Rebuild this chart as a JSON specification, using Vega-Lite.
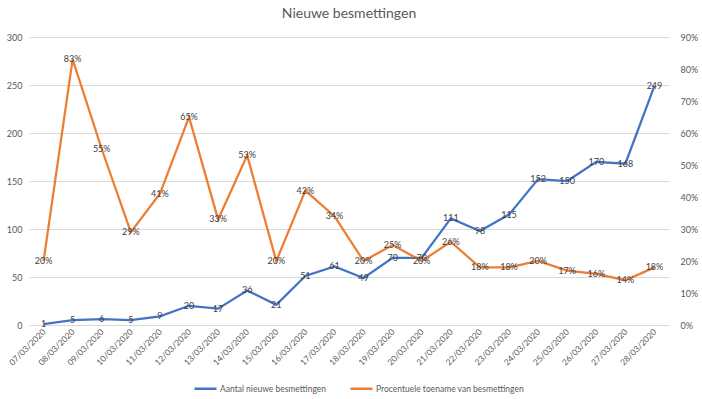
{
  "$schema": "https://vega.github.io/schema/vega-lite/v6.json",
  "width": 640,
  "height": 288,
  "autosize": {"type": "none"},
  "padding": {"left": 29, "top": 37, "right": 33, "bottom": 74},
  "background": "white",
  "title": {"text": "Nieuwe besmettingen", "fontSize": 14, "font": "Lato", "fontWeight": "normal", "color": "#595959", "offset": 12, "anchor": "middle"},
  "config": {"view": {"stroke": null}, "font": "Lato"},
  "data": {"values": [
    {"date": "07/03/2020", "count": 1, "pct": 0.20},
    {"date": "08/03/2020", "count": 5, "pct": 0.83},
    {"date": "09/03/2020", "count": 6, "pct": 0.55},
    {"date": "10/03/2020", "count": 5, "pct": 0.29},
    {"date": "11/03/2020", "count": 9, "pct": 0.41},
    {"date": "12/03/2020", "count": 20, "pct": 0.65},
    {"date": "13/03/2020", "count": 17, "pct": 0.33},
    {"date": "14/03/2020", "count": 36, "pct": 0.53},
    {"date": "15/03/2020", "count": 21, "pct": 0.20},
    {"date": "16/03/2020", "count": 51, "pct": 0.42},
    {"date": "17/03/2020", "count": 61, "pct": 0.34},
    {"date": "18/03/2020", "count": 49, "pct": 0.20},
    {"date": "19/03/2020", "count": 70, "pct": 0.25},
    {"date": "20/03/2020", "count": 70, "pct": 0.20},
    {"date": "21/03/2020", "count": 111, "pct": 0.26},
    {"date": "22/03/2020", "count": 98, "pct": 0.18},
    {"date": "23/03/2020", "count": 115, "pct": 0.18},
    {"date": "24/03/2020", "count": 152, "pct": 0.20},
    {"date": "25/03/2020", "count": 150, "pct": 0.17},
    {"date": "26/03/2020", "count": 170, "pct": 0.16},
    {"date": "27/03/2020", "count": 168, "pct": 0.14},
    {"date": "28/03/2020", "count": 249, "pct": 0.18}
  ]},
  "encoding": {
    "x": {"field": "date", "type": "ordinal", "sort": null, "scale": {"type": "point", "padding": 0.5},
      "axis": {"title": null, "labelAngle": -45, "labelAlign": "right", "labelBaseline": "middle", "labelPadding": 5, "ticks": false, "domain": false, "grid": false, "labelFontSize": 8.5, "labelColor": "#595959"}}
  },
  "layer": [
    {
      "encoding": {
        "y": {"field": "count", "type": "quantitative", "scale": {"domain": [0, 300]},
          "axis": {"title": null, "values": [0, 50, 100, 150, 200, 250, 300], "domain": false, "ticks": false, "labelPadding": 7, "labelFontSize": 9, "labelColor": "#595959", "gridColor": "#d9d9d9", "gridWidth": 1}}
      },
      "layer": [
        {"mark": {"type": "line", "strokeWidth": 2.25}, "encoding": {"color": {"datum": "Aantal nieuwe besmettingen", "type": "nominal", "scale": {"domain": ["Aantal nieuwe besmettingen", "Procentuele toename van besmettingen"], "range": ["#4472C4", "#ED7D31"]},
          "legend": {"title": null, "orient": "none", "direction": "horizontal", "legendX": 164, "legendY": 339, "symbolType": "stroke", "symbolStrokeWidth": 2.5, "symbolSize": 484, "labelOffset": 2, "labelFontSize": 8.5, "labelColor": "#595959", "columnPadding": 18}}}},
        {"mark": {"type": "text", "fontSize": 9, "color": "#404040"}, "encoding": {"text": {"field": "count", "type": "quantitative"}}}
      ]
    },
    {
      "encoding": {
        "y": {"field": "pct", "type": "quantitative", "scale": {"domain": [0, 0.9]},
          "axis": {"title": null, "orient": "right", "format": ".0%", "values": [0, 0.1, 0.2, 0.3, 0.4, 0.5, 0.6, 0.7, 0.8, 0.9], "domain": false, "ticks": false, "grid": false, "labelPadding": 11, "labelFontSize": 9, "labelColor": "#595959"}}
      },
      "layer": [
        {"mark": {"type": "line", "strokeWidth": 2.25}, "encoding": {"color": {"datum": "Procentuele toename van besmettingen", "type": "nominal"}}},
        {"mark": {"type": "text", "fontSize": 9, "color": "#404040"}, "encoding": {"text": {"field": "pct", "type": "quantitative", "format": ".0%"}}}
      ]
    }
  ],
  "resolve": {"scale": {"y": "independent"}}
}
